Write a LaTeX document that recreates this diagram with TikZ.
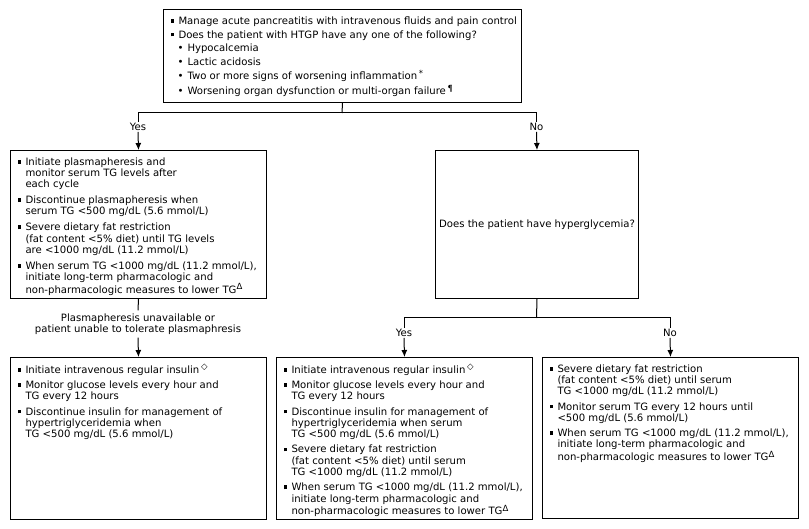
\documentclass[tikz,border=0pt]{standalone}
\usepackage{fontspec}
\setmainfont{DejaVu Sans}
\usetikzlibrary{arrows.meta}
\newcommand\fsz{\fontsize{10.1}{11.3}\selectfont}
\newlength\itemgap \setlength\itemgap{4pt}
\newcommand\bul{\raisebox{1.6pt}{\rule{3.8pt}{3.8pt}}}
\newcommand\itm[1]{\hangindent=8pt\hangafter=1\noindent\makebox[8pt][l]{\bul}#1\par\vspace{\itemgap}}
\newcommand\sitm[1]{\hangindent=17pt\hangafter=1\noindent\hspace*{7pt}\makebox[10pt][l]{•}#1\par\vspace{\itemgap}}
\newcommand\sups[1]{\raisebox{3.2pt}{\fontsize{8.5}{8.5}\selectfont #1}}
\newcommand\bxc[4]{\parbox[c][#2][t]{#1}{\fsz\raggedright\leftskip=#3\relax\vspace*{7pt}#4}}
\tikzset{
  box/.style={draw, line width=1pt, inner sep=0pt, anchor=north west},
  lbl/.style={inner sep=1pt, font=\fsz, align=center},
  arr/.style={-{Latex[length=7pt,width=6pt]}, line width=1pt},
  ln/.style={line width=1pt}
}
\begin{document}
\begin{tikzpicture}[x=1pt,y=-1pt]
\useasboundingbox[fill=white] (0,0) rectangle (809,529);

\node[box] (top) at (163,9) {\bxc{358pt}{93pt}{7pt}{\setlength\itemgap{2.6pt}%
\itm{Manage acute pancreatitis with intravenous fluids and pain control}
\itm{Does the patient with HTGP have any one of the following?}
\sitm{Hypocalcemia}
\sitm{Lactic acidosis}
\sitm{Two or more signs of worsening inflammation\,\sups{*}}
\sitm{Worsening organ dysfunction or multi-organ failure\,\sups{¶}}}};

\node[box] (b1) at (10,150) {\bxc{256pt}{148pt}{7pt}{\setlength\itemgap{4.6pt}%
\itm{Initiate plasmapheresis and\newline monitor serum TG levels after\newline each cycle}
\itm{Discontinue plasmapheresis when\newline serum TG <500 mg/dL (5.6 mmol/L)}
\itm{Severe dietary fat restriction\newline (fat content <5\% diet) until TG levels\newline are <1000 mg/dL (11.2 mmol/L)}
\itm{When serum TG <1000 mg/dL (11.2 mmol/L),\newline initiate long-term pharmacologic and\newline non-pharmacologic measures to lower TG\sups{Δ}}}};

\node[box, minimum width=203pt, minimum height=148pt, font=\fsz] (hg) at (435,150) {Does the patient have hyperglycemia?};

\node[box] (b2) at (10,357) {\bxc{256pt}{162pt}{7pt}{%
\itm{Initiate intravenous regular insulin\,\sups{◇}}
\itm{Monitor glucose levels every hour and\newline TG every 12 hours}
\itm{Discontinue insulin for management of\newline hypertriglyceridemia when\newline TG <500 mg/dL (5.6 mmol/L)}}};

\node[box] (b3) at (276,357) {\bxc{256pt}{162pt}{7pt}{%
\itm{Initiate intravenous regular insulin\,\sups{◇}}
\itm{Monitor glucose levels every hour and\newline TG every 12 hours}
\itm{Discontinue insulin for management of\newline hypertriglyceridemia when serum\newline TG <500 mg/dL (5.6 mmol/L)}
\itm{Severe dietary fat restriction\newline (fat content <5\% diet) until serum\newline TG <1000 mg/dL (11.2 mmol/L)}
\itm{When serum TG <1000 mg/dL (11.2 mmol/L),\newline initiate long-term pharmacologic and\newline non-pharmacologic measures to lower TG\sups{Δ}}}};

\node[box] (b4) at (542,357) {\bxc{256pt}{161pt}{7pt}{%
\itm{Severe dietary fat restriction\newline (fat content <5\% diet) until serum\newline TG <1000 mg/dL (11.2 mmol/L)}
\itm{Monitor serum TG every 12 hours until\newline <500 mg/dL (5.6 mmol/L)}
\itm{When serum TG <1000 mg/dL (11.2 mmol/L),\newline initiate long-term pharmacologic and\newline non-pharmacologic measures to lower TG\sups{Δ}}}};

% labels
\coordinate (s1) at (342,113);
\node[lbl] (yes1) at (138,127) {Yes};
\node[lbl] (no1) at (536.5,127) {No};
\node[lbl, inner sep=3pt] (alt) at (138,324) {Plasmapheresis unavailable or\\patient unable to tolerate plasmaphresis};
\coordinate (s2) at (536.5,318);
\node[lbl] (yes2) at (404,333) {Yes};
\node[lbl] (no2) at (670,333) {No};

% connectors
\draw[ln] (top.south) -- (s1);
\draw[ln] (s1) -| (yes1.north);
\draw[ln] (s1) -| (no1.north);
\draw[arr] (yes1.south) -- (b1.north);
\draw[arr] (no1.south) -- (hg.north);
\draw[ln] (b1.south) -- (alt.north);
\draw[arr] (alt.south) -- (b2.north);
\draw[ln] (hg.south) -- (s2);
\draw[ln] (s2) -| (yes2.north);
\draw[ln] (s2) -| (no2.north);
\draw[arr] (yes2.south) -- (b3.north);
\draw[arr] (no2.south) -- (b4.north);
\end{tikzpicture}
\end{document}
